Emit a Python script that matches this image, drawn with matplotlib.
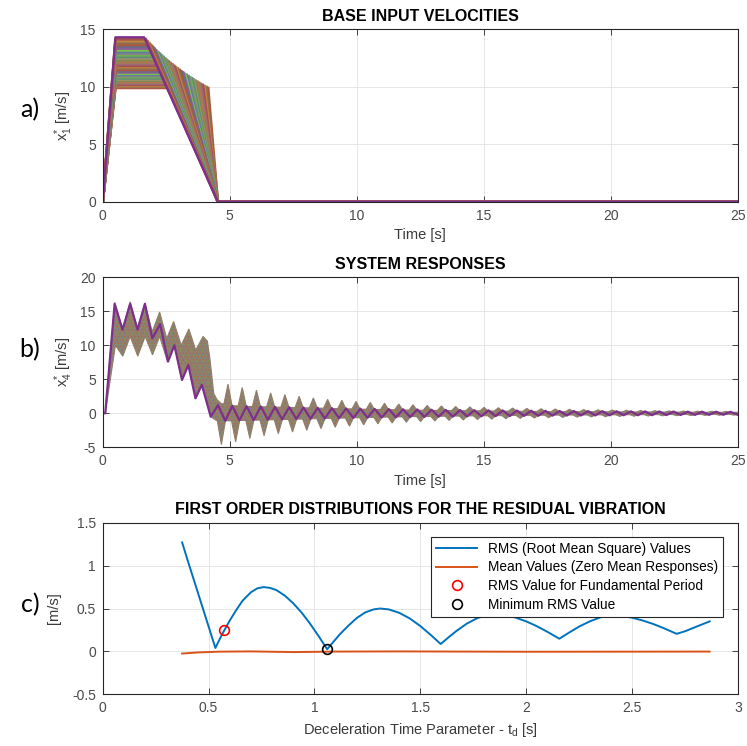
import matplotlib
matplotlib.use("Agg")
import matplotlib.pyplot as plt

# ---------------- data ----------------
# Panel a: deceleration time td and plateau velocity v for each input profile
a_td = [0.38, 0.45, 0.52, 0.59, 0.66, 0.73, 0.80, 0.87, 0.94, 1.01, 1.08, 1.15,
        1.22, 1.29, 1.36, 1.43, 1.50, 1.57, 1.64, 1.71, 1.78, 1.85, 1.92, 1.99,
        2.06, 2.13, 2.20, 2.27, 2.34, 2.41, 2.48, 2.55, 2.62, 2.69, 2.76, 2.83, 2.90]
a_v = [9.90, 9.99, 10.07, 10.16, 10.25, 10.34, 10.44, 10.53, 10.63, 10.73, 10.83, 10.93,
       11.04, 11.14, 11.25, 11.36, 11.47, 11.59, 11.71, 11.82, 11.95, 12.07, 12.20, 12.33,
       12.46, 12.60, 12.74, 12.88, 13.02, 13.17, 13.32, 13.48, 13.64, 13.80, 13.97, 14.14, 14.31]
a_t_rise = 0.5     # end of acceleration [s]
a_t_stop = 4.53    # end of deceleration [s]
a_t_end = 25.0

# Panel b: envelope of the response ensemble and the highlighted response
b_head_t_hi = [0.1, 0.47, 0.78, 1.08, 1.37, 1.66, 1.95, 2.24, 2.52, 2.79, 3.09, 3.39,
               3.66, 3.95, 4.12, 4.22, 4.37, 4.50]
b_head_hi = [0.0, 16.3, 12.3, 16.4, 12.3, 16.2, 12.0, 14.9, 11.0, 13.5, 10.0, 12.4,
             9.3, 11.3, 10.6, 8.0, 2.9, 2.0]
b_head_t_lo = [0.1, 0.5, 0.79, 1.08, 1.38, 1.67, 1.96, 2.24, 2.55, 2.82, 3.12, 3.37,
               3.65, 3.9, 4.25, 4.45]
b_head_lo = [0.0, 10.0, 8.4, 11.3, 8.4, 11.3, 8.6, 11.3, 7.6, 10.0, 4.9, 7.1,
             2.2, 4.2, -0.5, -1.0]
# alternating trough (down-spike) / peak (up-spike) instants after the stop
b_cycle_t = [4.67, 4.93, 5.23, 5.49, 5.79, 6.05, 6.35, 6.61, 6.91, 7.17, 7.47, 7.73,
             8.03, 8.29, 8.59, 8.85, 9.15, 9.41, 9.71, 9.97, 10.27, 10.53, 10.83, 11.09,
             11.39, 11.65, 11.95, 12.21, 12.51, 12.77, 13.07, 13.33, 13.63, 13.89, 14.19, 14.45,
             14.75, 15.01, 15.31, 15.57, 15.87, 16.13, 16.43, 16.69, 16.99, 17.25, 17.55, 17.81,
             18.11, 18.37, 18.67, 18.93, 19.23, 19.49, 19.79, 20.05, 20.35, 20.61, 20.91, 21.17,
             21.47, 21.73, 22.03, 22.29, 22.59, 22.85, 23.15, 23.41, 23.71, 23.97, 24.27, 24.53,
             24.83, 25.0]
b_tail_hi = [1.4, 4.3, 1.1, 3.8, 1.0, 3.4, 0.95, 3.0, 0.9, 2.75, 0.85, 2.5,
             0.8, 2.25, 0.75, 2.05, 0.7, 1.9, 0.65, 1.75, 0.6, 1.6, 0.56, 1.48,
             0.52, 1.36, 0.48, 1.25, 0.45, 1.16, 0.42, 1.08, 0.4, 1.0, 0.38, 0.94,
             0.36, 0.88, 0.34, 0.82, 0.32, 0.77, 0.3, 0.72, 0.28, 0.67, 0.26, 0.63,
             0.25, 0.59, 0.24, 0.55, 0.23, 0.51, 0.22, 0.48, 0.21, 0.45, 0.2, 0.42,
             0.19, 0.39, 0.18, 0.36, 0.17, 0.34, 0.16, 0.32, 0.15, 0.3, 0.14, 0.28,
             0.13, 0.15]
b_tail_lo = [-4.6, -1.1, -4.2, -1.05, -3.7, -1.0, -3.3, -0.95, -3.0, -0.9, -2.75, -0.85,
             -2.5, -0.8, -2.25, -0.75, -2.05, -0.7, -1.9, -0.65, -1.7, -0.6, -1.55, -0.56,
             -1.43, -0.52, -1.32, -0.48, -1.22, -0.45, -1.13, -0.42, -1.05, -0.4, -0.98, -0.38,
             -0.92, -0.36, -0.86, -0.34, -0.8, -0.32, -0.75, -0.3, -0.7, -0.28, -0.65, -0.26,
             -0.61, -0.25, -0.57, -0.24, -0.53, -0.23, -0.5, -0.22, -0.46, -0.21, -0.43, -0.2,
             -0.4, -0.19, -0.37, -0.18, -0.35, -0.17, -0.33, -0.16, -0.31, -0.15, -0.29, -0.14,
             -0.27, -0.15]
b_spike_halfwidth = 0.16
b_purple_t = [0, 0.1, 0.47, 0.78, 1.08, 1.37, 1.66, 1.95, 2.26, 2.57, 2.82, 3.12, 3.37, 3.65,
              3.9, 4.25, 4.54, 4.82, 5.10, 5.38, 5.66, 5.94, 6.22, 6.50, 6.78, 7.06, 7.34, 7.62,
              7.90, 8.18, 8.46, 8.74, 9.02, 9.30, 9.58, 9.86, 10.14, 10.42, 10.70, 10.98, 11.26,
              11.54, 11.82, 12.10, 12.38, 12.66, 12.94, 13.22, 13.50, 13.78, 14.06, 14.34, 14.62,
              14.90, 15.18, 15.46, 15.74, 16.02, 16.30, 16.58, 16.86, 17.14, 17.42, 17.70, 17.98,
              18.26, 18.54, 18.82, 19.10, 19.38, 19.66, 19.94, 20.22, 20.50, 20.78, 21.06, 21.34,
              21.62, 21.90, 22.18, 22.46, 22.74, 23.02, 23.30, 23.58, 23.86, 24.14, 24.42, 24.70,
              24.98]
b_purple_v = [0, 0, 16.1, 12.3, 16.1, 12.3, 16.1, 11.0, 13.1, 7.6, 10.0, 4.9, 7.1, 2.2,
              4.2, -0.5, 1.2, -1.1, 1.1, -1.05, 1.05, -1.0, 1.0, -0.95, 0.95, -0.9, 0.9, -0.85,
              0.85, -0.8, 0.8, -0.76, 0.76, -0.72, 0.72, -0.68, 0.68, -0.65, 0.65, -0.62, 0.62,
              -0.59, 0.59, -0.56, 0.56, -0.53, 0.53, -0.5, 0.5, -0.48, 0.48, -0.46, 0.46,
              -0.44, 0.44, -0.42, 0.42, -0.4, 0.4, -0.38, 0.38, -0.36, 0.36, -0.34, 0.34,
              -0.33, 0.33, -0.32, 0.32, -0.31, 0.31, -0.3, 0.3, -0.29, 0.29, -0.28, 0.28,
              -0.27, 0.27, -0.26, 0.26, -0.25, 0.25, -0.24, 0.24, -0.23, 0.23, -0.22, 0.22,
              -0.21]

# Panel c: RMS and mean of residual vibration vs deceleration time
c_td = [0.375, 0.40, 0.45, 0.50, 0.532, 0.56, 0.574, 0.60, 0.63, 0.66, 0.70, 0.73, 0.76,
        0.79, 0.82, 0.86, 0.90, 0.94, 0.98, 1.02, 1.06, 1.09, 1.12, 1.16, 1.20, 1.24, 1.28,
        1.31, 1.35, 1.40, 1.45, 1.50, 1.55, 1.596, 1.63, 1.67, 1.72, 1.77, 1.81, 1.85, 1.90,
        1.95, 2.00, 2.05, 2.10, 2.156, 2.20, 2.25, 2.30, 2.35, 2.40, 2.45, 2.50, 2.55, 2.60,
        2.65, 2.71, 2.75, 2.80, 2.866]
c_rms = [1.27, 1.07, 0.68, 0.29, 0.04, 0.18, 0.245, 0.36, 0.48, 0.59, 0.69, 0.735, 0.75,
         0.74, 0.715, 0.65, 0.56, 0.45, 0.32, 0.176, 0.025, 0.114, 0.20, 0.30, 0.39, 0.455, 0.49,
         0.50, 0.49, 0.45, 0.384, 0.295, 0.19, 0.086, 0.158, 0.238, 0.325, 0.389, 0.419, 0.43, 0.42,
         0.394, 0.35, 0.294, 0.228, 0.148, 0.216, 0.29, 0.35, 0.397, 0.42, 0.413, 0.393, 0.36, 0.319,
         0.27, 0.205, 0.235, 0.285, 0.35]
c_mean_td = [0.375, 0.45, 0.55, 0.70, 0.90, 1.10, 1.40, 2.00, 2.866]
c_mean = [-0.025, -0.012, -0.003, 0.0, -0.008, -0.002, 0.0, -0.004, -0.002]
c_fund = (0.574, 0.245)
c_min = (1.06, 0.025)

ensemble_colors = ['#b0553f', '#7d8a4c', '#8b5d97', '#9c7b5b', '#5f7e9c', '#a3504d',
                   '#6fae4f', '#8d6e4e', '#a08f6e', '#6a6a8c', '#b47352', '#78c24a',
                   '#a1617f', '#858585', '#bf8541', '#5c8b7a']

# ---------------- style ----------------
plt.rcParams['font.family'] = ['Liberation Sans', 'DejaVu Sans']
plt.rcParams['hatch.linewidth'] = 0.6
plt.rcParams['axes.unicode_minus'] = False
AX = '#262626'
PURPLE = '#7E2F8E'
TXT = '#3a3a3a'

fig = plt.figure(figsize=(7.47, 7.46), dpi=100)
L, W = 0.1375, 0.8505
ax_a = fig.add_axes([L, 0.7296, W, 0.2311])
ax_b = fig.add_axes([L, 0.4004, W, 0.2279])
ax_c = fig.add_axes([L, 0.0693, W, 0.2300])


def style(ax):
    ax.grid(True, color='#e2e2e2', lw=0.6)
    ax.set_axisbelow(True)
    for s in ax.spines.values():
        s.set_color(AX)
        s.set_linewidth(0.8)
    ax.tick_params(direction='in', top=True, right=True, length=4, width=0.6,
                   colors=AX, labelsize=10, labelcolor='#4a4a4a', pad=5)


# ---- panel a ----
for i in range(len(a_td) - 1):
    td, v = a_td[i], a_v[i]
    ax_a.plot([0, a_t_rise, a_t_stop - td, a_t_stop, a_t_end], [0, v, v, 0, 0],
              color=ensemble_colors[(i * 7) % len(ensemble_colors)], lw=1.9,
              solid_joinstyle='miter')
td, v = a_td[-1], a_v[-1]
ax_a.plot([0, a_t_rise, a_t_stop - td, a_t_stop, a_t_end], [0, v, v, 0, 0],
          color=PURPLE, lw=1.6)
ax_a.set_xlim(0, 25)
ax_a.set_ylim(0, 15)
ax_a.set_xticks([0, 5, 10, 15, 20, 25])
ax_a.set_yticks([0, 5, 10, 15])
style(ax_a)
ax_a.set_title('BASE INPUT VELOCITIES', fontsize=11.5, fontweight='bold', pad=6)
ax_a.set_xlabel('Time [s]', fontsize=10.5, color=TXT, labelpad=4)
ax_a.set_ylabel(r'$\mathregular{x^{*}_{1}}$ [m/s]', fontsize=10.5, color=TXT, labelpad=4)


# ---- panel b ----
def spiky(t_list, v_list, spike_parity):
    xs, ys = [], []
    n = len(t_list)
    for j in range(n):
        t, v = t_list[j], v_list[j]
        if j % 2 == spike_parity and j < n - 1:
            prev_v = v_list[j - 1] if j > 0 else v_list[j + 1]
            xs += [t - b_spike_halfwidth, t, t + b_spike_halfwidth]
            ys += [prev_v, v, v_list[j + 1]]
        else:
            xs.append(t)
            ys.append(v)
    return xs, ys


hx, hy = spiky(b_cycle_t, b_tail_hi, 1)
lx, ly = spiky(b_cycle_t, b_tail_lo, 0)
band_x = b_head_t_hi + hx + (b_head_t_lo + lx)[::-1]
band_y = b_head_hi + hy + (b_head_lo + ly)[::-1]
ax_b.fill(band_x, band_y, facecolor='#92806c', edgecolor='#92806c', lw=0.8)
hatch_cols = ['#b85a3c', '#5f86a8', '#7aa04c']
hatch_pats = ['.....', '....', '...']
for hc, hp in zip(hatch_cols, hatch_pats):
    ax_b.fill(band_x, band_y, facecolor='none', edgecolor=hc, hatch=hp, lw=0, alpha=0.6)
ax_b.plot(b_purple_t, b_purple_v, color=PURPLE, lw=1.6)
ax_b.set_xlim(0, 25)
ax_b.set_ylim(-5, 20)
ax_b.set_xticks([0, 5, 10, 15, 20, 25])
ax_b.set_yticks([-5, 0, 5, 10, 15, 20])
style(ax_b)
ax_b.set_title('SYSTEM RESPONSES', fontsize=11.5, fontweight='bold', pad=6)
ax_b.set_xlabel('Time [s]', fontsize=10.5, color=TXT, labelpad=4)
ax_b.set_ylabel(r'$\mathregular{x^{*}_{4}}$ [m/s]', fontsize=10.5, color=TXT, labelpad=4)

# ---- panel c ----
ax_c.plot(c_td, c_rms, color='#0072BD', lw=1.4, label='RMS (Root Mean Square) Values')
ax_c.plot(c_mean_td, c_mean, color='#D95319', lw=1.4, label='Mean Values (Zero Mean Responses)')
ax_c.plot([c_fund[0]], [c_fund[1]], 'o', mfc='none', mec='#ff0000', ms=7, mew=1.2,
          label='RMS Value for Fundamental Period')
ax_c.plot([c_min[0]], [c_min[1]], 'o', mfc='none', mec='#000000', ms=7, mew=1.2,
          label='Minimum RMS Value')
ax_c.set_xlim(0, 3)
ax_c.set_ylim(-0.5, 1.5)
ax_c.set_xticks([0, 0.5, 1, 1.5, 2, 2.5, 3])
ax_c.set_xticklabels(['0', '0.5', '1', '1.5', '2', '2.5', '3'])
ax_c.set_yticks([-0.5, 0, 0.5, 1, 1.5])
ax_c.set_yticklabels(['-0.5', '0', '0.5', '1', '1.5'])
style(ax_c)
ax_c.set_title('FIRST ORDER DISTRIBUTIONS FOR THE RESIDUAL VIBRATION', fontsize=11.5,
               fontweight='bold', pad=6)
ax_c.set_xlabel(r'Deceleration Time Parameter - t$_\mathregular{d}$ [s]', fontsize=10.5,
                color=TXT, labelpad=4)
ax_c.set_ylabel('[m/s]', fontsize=10.5, color=TXT, labelpad=8)
leg = ax_c.legend(loc='upper right', bbox_to_anchor=(0.976, 0.918), borderaxespad=0,
                  fontsize=9.8, frameon=True, fancybox=False, framealpha=1,
                  handlelength=3.0, labelspacing=0.35, borderpad=0.35)
leg.get_frame().set_edgecolor(AX)
leg.get_frame().set_linewidth(0.8)

# panel labels
for y, lab in [(0.853, 'a)'), (0.531, 'b)'), (0.189, 'c)')]:
    fig.text(0.04, y, lab, fontsize=18, family=['Lato', 'DejaVu Sans'], va='center', ha='center')

fig.savefig('out.png', dpi=100)
